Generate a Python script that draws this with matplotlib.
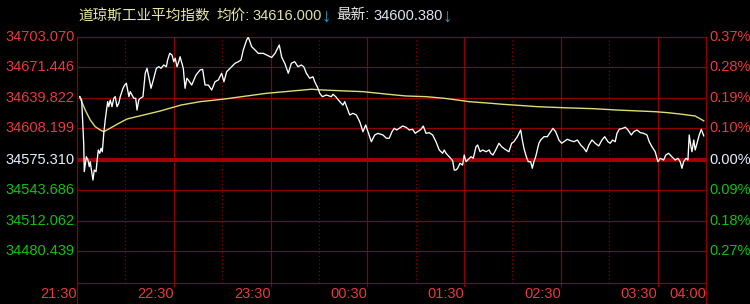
import matplotlib
matplotlib.use('Agg')
import matplotlib.pyplot as plt
from matplotlib.transforms import blended_transform_factory

# ---------------- data ----------------
prev_close = 34575.310
y_levels = [34703.070, 34671.446, 34639.822, 34608.199, 34575.310,
            34543.686, 34512.062, 34480.439]
pct_labels = ['0.37%', '0.28%', '0.19%', '0.10%', '0.00%', '0.09%', '0.18%', '0.27%']
time_ticks = [0, 60, 120, 180, 240, 300, 360, 390]          # minutes since 21:30
time_labels = ['21:30', '22:30', '23:30', '00:30', '01:30', '02:30', '03:30', '04:00']
half_ticks = [30, 90, 150, 210, 270, 330]

price_minutes = [1.7, 2.9, 4.2, 4.5, 5.8, 6.8, 7.6, 8.2, 9.1, 9.9, 10.7, 11.8, 12.4, 13.2,
                 14.1, 14.9, 15.7, 16.6, 17.5, 18.2, 19.0, 19.7, 20.6, 21.7, 22.8, 23.7,
                 24.8, 25.9, 26.8, 28.5, 29.6, 30.6, 31.4, 32.2, 33.0, 34.1, 35.2, 36.4,
                 37.2, 38.3, 39.2, 40.9, 42.3, 43.4, 44.5, 45.9, 47.6, 49.2, 50.7, 52.1,
                 53.8, 55.4, 56.2, 57.5, 58.9, 60.0, 60.9, 62.0, 63.1, 63.9, 65.9, 67.0,
                 68.1, 69.0, 71.1, 73.8, 76.3, 77.9, 79.4, 81.4, 83.5, 85.6, 87.6, 89.7,
                 91.1, 92.8, 94.9, 98.0, 100.0, 101.7, 103.1, 105.2, 106.2, 108.3, 110.4,
                 112.4, 115.5, 117.6, 120.7, 122.8, 125.4, 126.9, 129.0, 131.0, 132.9,
                 135.0, 137.0, 139.1, 140.6, 142.2, 144.3, 146.3, 147.4, 149.4, 150.5,
                 152.1, 154.6, 157.7, 158.7, 160.4, 162.9, 164.9, 166.0, 168.0, 169.1,
                 171.1, 173.2, 175.3, 177.3, 179.0, 180.4, 182.5, 184.6, 186.6, 189.7,
                 191.8, 193.6, 195.3, 196.7, 198.2, 199.8, 201.9, 204.0, 206.0, 208.1,
                 209.7, 211.2, 213.3, 214.7, 216.4, 218.4, 220.5, 222.6, 224.6, 226.7,
                 227.7, 228.8, 230.8, 232.9, 233.9, 235.0, 236.0, 237.5, 239.1, 240.1,
                 241.2, 242.2, 244.3, 245.7, 247.4, 248.4, 249.9, 251.5, 253.6, 255.6,
                 256.5, 257.9, 259.6, 261.6, 263.3, 265.4, 266.8, 267.8, 269.5, 270.9,
                 273.0, 275.1, 276.1, 277.1, 278.6, 279.8, 281.3, 282.3, 283.3, 284.4,
                 285.4, 286.4, 287.5, 289.5, 291.6, 293.7, 295.1, 296.8, 298.8, 300.5,
                 301.9, 304.0, 306.1, 308.1, 310.2, 312.3, 314.3, 315.8, 317.4, 319.3,
                 321.3, 323.5, 325.5, 327.2, 329.2, 330.6, 332.1, 333.7, 334.8, 336.2,
                 338.3, 340.0, 341.6, 343.7, 345.2, 347.2, 349.3, 351.4, 353.4, 354.8,
                 356.5, 358.5, 360.2, 361.6, 363.7, 365.1, 366.8, 368.8, 370.9, 372.6,
                 374.0, 375.1, 376.1, 377.6, 378.8, 379.6, 380.5, 381.3, 382.4, 383.3,
                 385.0, 385.8, 387.1, 388.6]
price_values = [34641.1, 34637.6, 34590.9, 34563.2, 34578.7, 34575.3, 34568.4, 34573.5,
                34563.2, 34554.5, 34564.9, 34563.2, 34573.5, 34585.7, 34582.3, 34587.5,
                34583.9, 34603.0, 34616.9, 34625.5, 34635.9, 34630.7, 34637.6, 34630.7,
                34639.4, 34641.1, 34630.7, 34634.2, 34641.1, 34649.8, 34653.2, 34655.0,
                34648.0, 34641.1, 34646.3, 34642.8, 34639.4, 34639.4, 34627.2, 34637.6,
                34639.4, 34641.1, 34665.4, 34670.6, 34661.8, 34649.8, 34660.2, 34670.6,
                34672.2, 34670.6, 34674.0, 34672.2, 34679.2, 34686.1, 34684.4, 34677.4,
                34681.0, 34672.2, 34677.4, 34682.6, 34670.6, 34649.8, 34660.2, 34658.4,
                34653.2, 34663.6, 34668.8, 34669.5, 34653.2, 34653.2, 34648.0, 34656.6,
                34658.4, 34665.4, 34656.6, 34667.0, 34670.6, 34675.8, 34677.4, 34679.2,
                34689.6, 34700.0, 34703.0, 34693.0, 34689.6, 34686.1, 34686.1, 34684.4,
                34681.8, 34686.1, 34694.8, 34682.3, 34675.0, 34665.4, 34675.8, 34677.4,
                34672.2, 34674.0, 34672.2, 34665.4, 34660.2, 34661.8, 34656.6, 34649.8,
                34644.6, 34641.1, 34642.8, 34641.1, 34643.6, 34641.1, 34635.9, 34632.4,
                34635.9, 34627.2, 34622.1, 34623.8, 34622.1, 34615.1, 34604.7, 34611.7,
                34604.7, 34594.3, 34601.3, 34603.0, 34601.3, 34597.9, 34597.9, 34604.7,
                34608.2, 34606.5, 34608.2, 34610.6, 34609.3, 34606.5, 34607.2, 34603.0,
                34604.7, 34607.2, 34610.6, 34603.0, 34603.7, 34601.3, 34594.3, 34585.7,
                34582.3, 34585.7, 34582.3, 34578.7, 34574.6, 34564.9, 34564.9, 34566.7,
                34571.9, 34570.1, 34580.5, 34573.5, 34575.3, 34578.7, 34577.1, 34589.1,
                34590.9, 34583.9, 34585.7, 34583.9, 34585.7, 34582.3, 34580.5, 34585.7,
                34592.7, 34589.1, 34586.4, 34585.0, 34583.9, 34592.7, 34594.3, 34599.5,
                34606.5, 34596.1, 34587.5, 34578.7, 34573.5, 34573.5, 34566.7, 34573.5,
                34578.7, 34585.7, 34592.7, 34596.1, 34599.5, 34599.5, 34604.7, 34608.2,
                34604.7, 34596.1, 34592.7, 34594.3, 34596.8, 34595.4, 34594.3, 34596.1,
                34590.9, 34587.5, 34583.9, 34590.9, 34596.1, 34592.7, 34589.9, 34596.1,
                34599.5, 34594.3, 34592.7, 34596.1, 34594.3, 34603.0, 34607.2, 34608.2,
                34609.3, 34606.5, 34601.3, 34604.7, 34606.5, 34603.7, 34603.0, 34601.3,
                34594.3, 34589.1, 34583.9, 34573.5, 34577.1, 34575.3, 34580.5, 34582.3,
                34578.7, 34575.3, 34577.1, 34573.5, 34566.7, 34573.5, 34577.1, 34575.3,
                34601.3, 34590.9, 34583.9, 34596.1, 34585.7, 34596.1, 34601.3, 34607.2,
                34600.4]

avg_minutes = [1.7, 2.0, 5.1, 8.2, 11.3, 14.4, 16.6, 19.7, 24.8, 31.0, 41.4, 51.6, 64.5,
               76.3, 91.8, 105.2, 117.6, 129.0, 145.3, 152.5, 177.3, 192.8, 204.0, 216.4,
               227.7, 236.0, 243.2, 256.7, 263.7, 277.1, 285.4, 301.9, 320.5, 334.8, 358.5,
               366.8, 375.1, 383.3, 388.6]
avg_values = [34641.1, 34639.4, 34627.2, 34616.9, 34609.9, 34606.5, 34604.7, 34607.5,
              34612.4, 34617.9, 34622.1, 34626.2, 34632.4, 34635.9, 34638.7, 34641.8,
              34644.6, 34646.3, 34648.8, 34648.0, 34646.3, 34643.6, 34641.8, 34641.1,
              34639.4, 34637.6, 34635.9, 34634.2, 34633.2, 34631.7, 34630.7, 34629.6,
              34628.6, 34627.2, 34625.5, 34624.4, 34622.8, 34621.0, 34616.0]

title_name = '道琼斯工业平均指数'
avg_label = '均价:'
avg_text = '34616.000'
last_label = '最新:'
last_text = '34600.380'
arrow = '↓'

# ---------------- styles ----------------
W, H = 750, 304
L, R, T, B = 77, 706, 37, 283
GRID = '#900000'
CLOSE_LINE = '#a80000'
RED = '#e8383c'
GREEN = '#10c010'
CLOSE_TXT = '#e6eeff'
FONT = ['Liberation Sans', 'Noto Sans CJK SC', 'DejaVu Sans']
FS = 10.5

fig = plt.figure(figsize=(W / 100, H / 100), dpi=100, facecolor='black')
ax = fig.add_axes([L / W, (H - B) / H, (R - L) / W, (B - T) / H])
ax.set_facecolor('black')
ax.set_xlim(0, 390)
ymin = prev_close - (y_levels[0] - prev_close)
ax.set_ylim(ymin, y_levels[0])
ax.set_axis_off()

pxh = B - T
tr_xdata = blended_transform_factory(ax.transData, ax.transAxes)
tr_ydata = blended_transform_factory(ax.transAxes, ax.transData)

# horizontal grid
for v in y_levels:
    if v == prev_close:
        ax.axhline(v, color=CLOSE_LINE, lw=2.8, zorder=1)
    else:
        ax.axhline(v, color=GRID, lw=0.85, zorder=1, clip_on=False)
ax.axhline(ymin, color=GRID, lw=0.85, zorder=1, clip_on=False)

# vertical grid
for t in time_ticks[1:-1]:
    ax.plot([t, t], [1, -3 / pxh], transform=tr_xdata, color=GRID, lw=0.85,
            clip_on=False, zorder=1)
for t in half_ticks:
    ax.axvline(t, color=GRID, lw=0.85, linestyle=(0, (1, 2.2)), zorder=1)
for t in (time_ticks[0], time_ticks[-1]):
    ax.plot([t, t], [1, -(H - B) / pxh], transform=tr_xdata, color=GRID, lw=0.85,
            clip_on=False, zorder=1)

# series
ax.plot(avg_minutes, avg_values, color='#dcdc78', lw=1.0, zorder=3)
ax.plot(price_minutes, price_values, color='white', lw=0.95, zorder=4)

# y labels
for v, pl in zip(y_levels, pct_labels):
    if v > prev_close:
        c = RED
    elif v < prev_close:
        c = GREEN
    else:
        c = CLOSE_TXT
    ax.text(-2.5 / (R - L), v, f'{v:.3f}', transform=tr_ydata, ha='right', va='center',
            color=c, fontsize=FS, family=FONT)
    ax.text(1 + 3 / (R - L), v, pl, transform=tr_ydata, ha='left', va='center',
            color=c, fontsize=FS, family=FONT)

# x labels
for t, lab in zip(time_ticks, time_labels):
    ax.text(t, -11.5 / pxh, lab, transform=tr_xdata, ha='right', va='center',
            color=RED, fontsize=FS, family=FONT)

# title pieces
yb = 1 - 19.5 / H
pieces = [(78, title_name, '#e8e8a0', FS, 0), (216, avg_label, '#e8e8a0', FS, 0),
          (252, avg_text, '#e0e0a0', FS, 0), (321.5, arrow, '#10a8d8', 13.5, 2.5),
          (336, last_label, '#e8e8e8', FS, 0), (373, last_text, '#dde4f0', FS, 0),
          (442.5, arrow, '#10a8d8', 13.5, 2.5)]
for x, s, c, fs, dy in pieces:
    fig.text(x / W, yb - dy / H, s, color=c, fontsize=fs, family=FONT, ha='left',
             va='baseline')

fig.savefig('out.png', dpi=100, facecolor='black')
